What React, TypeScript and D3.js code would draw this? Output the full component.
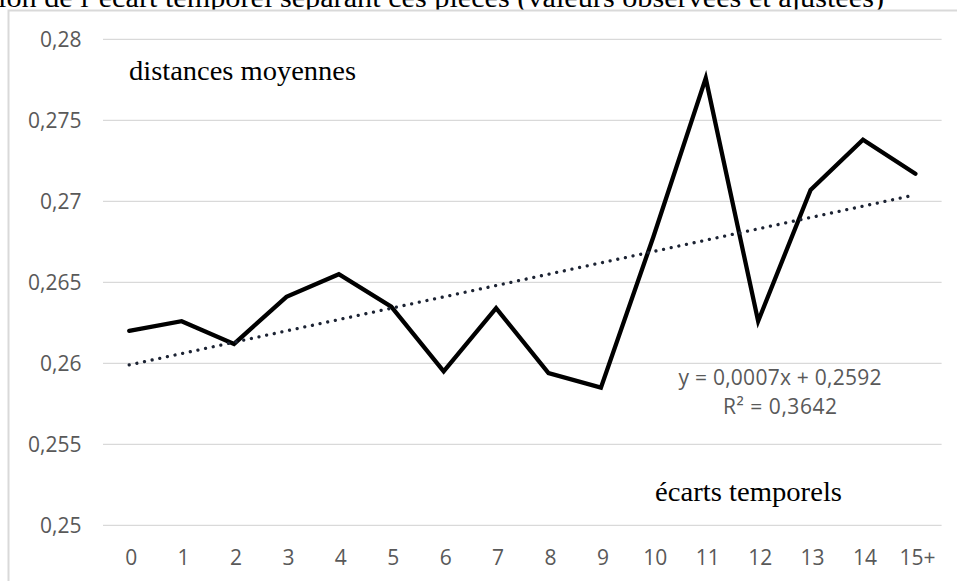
import React from "react";
import * as d3 from "d3";

const categories = ["0", "1", "2", "3", "4", "5", "6", "7", "8", "9", "10", "11", "12", "13", "14", "15+"];
const distances = [0.2620, 0.2626, 0.2612, 0.2641, 0.2655, 0.2635, 0.2595, 0.2634, 0.2594, 0.2585, 0.2678, 0.2776, 0.2626, 0.2707, 0.2738, 0.2717];
const yTicks = [0.25, 0.255, 0.26, 0.265, 0.27, 0.275, 0.28];
const trendSlope = 0.0007;
const trendIntercept = 0.2592;
const equationLabel = "y = 0,0007x + 0,2592";
const r2Label = "R² = 0,3642";
const yTitle = "distances moyennes";
const xTitle = "écarts temporels";
const topTitle = "ion de l’écart temporel séparant ces pièces (valeurs observées et ajustées)";

const W = 957;
const H = 581;

export default function App() {
  const x = d3.scaleBand<string>().domain(categories).range([103, 941.6]);
  const y = d3.scaleLinear().domain([0.25, 0.28]).range([525.3, 39.3]);
  const cx = (c: string) => (x(c) as number) + x.bandwidth() / 2;

  const line = d3
    .line<number>()
    .x((_, i) => cx(categories[i]))
    .y((d) => y(d));

  const trendPts: [number, number][] = [
    [cx(categories[0]), y(trendSlope * 1 + trendIntercept)],
    [cx(categories[categories.length - 1]), y(trendSlope * categories.length + trendIntercept)],
  ];

  const fmt = (v: number) => d3.format("")(+v.toFixed(3)).replace(".", ",");
  const tickFont = "'Open Sans', sans-serif";
  const serif = "'Liberation Serif', serif";

  return (
    <div style={{ position: "absolute", left: 0, top: 0, width: W, height: H, overflow: "hidden" }}>
      <svg width={W} height={H} style={{ display: "block", background: "#fff" }}>
        <text x={-2} y={7} fontFamily={serif} fontSize={28} fill="#000" textLength={886} lengthAdjust="spacingAndGlyphs">
          {topTitle}
        </text>
        <rect x={8.5} y={10.5} width={W + 20} height={H + 20} fill="#fff" stroke="#d9d9d9" strokeWidth={2} />
        {yTicks.map((t) => (
          <g key={t}>
            <line x1={103} x2={941.6} y1={y(t)} y2={y(t)} stroke="#d9d9d9" strokeWidth={1.3} />
            <text x={81.5} y={y(t) + 7.5} textAnchor="end" fontFamily={tickFont} fontSize={21} fill="#595959">
              {fmt(t)}
            </text>
          </g>
        ))}
        {categories.map((c) => (
          <text key={c} x={cx(c) + 2} y={565} textAnchor="middle" fontFamily={tickFont} fontSize={21} fill="#595959">
            {c}
          </text>
        ))}
        <path d={line(distances) || ""} fill="none" stroke="#000" strokeWidth={4.3} strokeLinejoin="miter" strokeLinecap="round" />
        <line
          x1={trendPts[0][0]}
          y1={trendPts[0][1]}
          x2={trendPts[1][0]}
          y2={trendPts[1][1]}
          stroke="#1c2333"
          strokeWidth={3.3}
          strokeDasharray="0.01 7.8"
          strokeLinecap="round"
        />
        <text x={780} y={384.5} textAnchor="middle" fontFamily={tickFont} fontSize={21} fill="#595959" textLength={203} lengthAdjust="spacing">
          {equationLabel}
        </text>
        <text x={780} y={414} textAnchor="middle" fontFamily={tickFont} fontSize={21} fill="#595959" textLength={114} lengthAdjust="spacing">
          {r2Label}
        </text>
        <text x={129} y={80} fontFamily={serif} fontSize={28} fill="#000" textLength={227} lengthAdjust="spacingAndGlyphs">
          {yTitle}
        </text>
        <text x={655} y={500.5} fontFamily={serif} fontSize={28} fill="#000" textLength={187} lengthAdjust="spacingAndGlyphs">
          {xTitle}
        </text>
      </svg>
    </div>
  );
}
